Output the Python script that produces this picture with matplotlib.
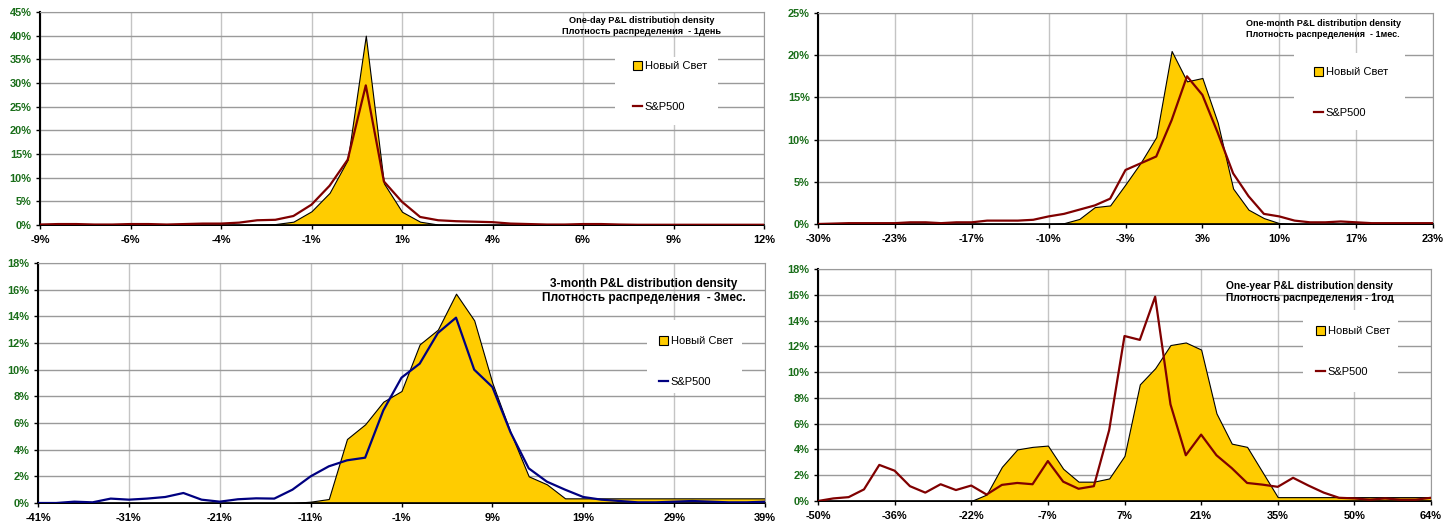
import numpy as np
import matplotlib.pyplot as plt
from matplotlib.patches import Patch, Rectangle
from matplotlib.lines import Line2D

plt.rcParams['font.family'] = ['Liberation Sans', 'DejaVu Sans']

W, H = 1455, 529

### Data: distribution density, % ###
# one day
day_ticks = ['-9%', '-6%', '-4%', '-1%', '1%', '4%', '6%', '9%', '12%']
day_nsv = [0, 0, 0, 0, 0, 0, 0, 0, 0, 0,
           0, 0, 0.1, 0.2, 0.7, 2.9, 6.8, 13.8, 40.0, 8.8,
           2.8, 0.7, 0.1, 0, 0, 0, 0, 0, 0, 0,
           0, 0, 0, 0, 0, 0, 0, 0, 0, 0, 0]
day_sp = [0.1, 0.2, 0.2, 0.1, 0.1, 0.2, 0.2, 0.1, 0.2, 0.3,
          0.3, 0.5, 1.0, 1.1, 1.9, 4.3, 8.3, 13.8, 29.5, 9.2,
          4.9, 1.7, 1.0, 0.8, 0.7, 0.6, 0.3, 0.2, 0.1, 0.1,
          0.2, 0.2, 0.1, 0.05, 0.05, 0.05, 0.05, 0.05, 0.05, 0.05, 0.05]

# one month
month_ticks = ['-30%', '-23%', '-17%', '-10%', '-3%', '3%', '10%', '17%', '23%']
month_nsv = [0, 0, 0, 0, 0, 0, 0, 0, 0, 0,
             0, 0, 0, 0, 0, 0, 0.1, 0.6, 2.0, 2.2,
             4.7, 7.3, 10.3, 20.5, 16.9, 17.3, 12.0, 4.2, 1.7, 0.7,
             0.1, 0, 0, 0, 0, 0, 0, 0, 0, 0, 0]
month_sp = [0, 0.05, 0.1, 0.1, 0.1, 0.1, 0.2, 0.2, 0.1, 0.2,
            0.2, 0.4, 0.4, 0.4, 0.5, 0.9, 1.2, 1.7, 2.2, 3.0,
            6.4, 7.2, 8.0, 12.3, 17.5, 15.3, 10.8, 6.0, 3.3, 1.2,
            0.9, 0.4, 0.2, 0.2, 0.3, 0.2, 0.1, 0.1, 0.1, 0.1, 0.1]

# three months
q_ticks = ['-41%', '-31%', '-21%', '-11%', '-1%', '9%', '19%', '29%', '39%']
q_nsv = [0, 0, 0, 0, 0, 0, 0, 0, 0, 0,
         0, 0, 0, 0, 0, 0.1, 0.3, 4.8, 5.9, 7.6,
         8.4, 11.9, 13.0, 15.7, 13.7, 9.0, 5.3, 2.0, 1.4, 0.35,
         0.35, 0.35, 0.35, 0.35, 0.35, 0.35, 0.35, 0.35, 0.35, 0.35, 0.35]
q_sp = [0, 0, 0.1, 0.05, 0.33, 0.25, 0.33, 0.45, 0.75, 0.25,
        0.1, 0.28, 0.35, 0.33, 1.0, 2.0, 2.75, 3.2, 3.4, 6.95,
        9.4, 10.45, 12.75, 13.9, 10.0, 8.7, 5.3, 2.6, 1.6, 1.0,
        0.45, 0.25, 0.15, 0.05, 0.05, 0.1, 0.15, 0.1, 0.05, 0.05, 0.1]

# one year
year_ticks = ['-50%', '-36%', '-22%', '-7%', '7%', '21%', '35%', '50%', '64%']
year_nsv = [0, 0, 0, 0, 0, 0, 0, 0, 0, 0,
            0, 0.5, 2.65, 4.0, 4.2, 4.3, 2.5, 1.5, 1.5, 1.75,
            3.5, 9.05, 10.3, 12.1, 12.3, 11.75, 6.8, 4.45, 4.2, 2.25,
            0.3, 0.3, 0.3, 0.3, 0.3, 0.3, 0.3, 0.3, 0.3, 0.3, 0.3]
year_sp = [0, 0.2, 0.3, 0.9, 2.8, 2.35, 1.15, 0.65, 1.3, 0.85,
           1.2, 0.5, 1.25, 1.4, 1.3, 3.1, 1.5, 0.95, 1.15, 5.5,
           12.8, 12.5, 15.85, 7.5, 3.55, 5.15, 3.55, 2.55, 1.4, 1.27,
           1.1, 1.8, 1.2, 0.65, 0.25, 0.2, 0.1, 0.2, 0.1, 0.1, 0.25]

legend_labels = ['Новый Свет', 'S&P500']

YELLOW = '#ffcc00'
GREEN = '#1a6e1a'

fig = plt.figure(figsize=(W / 100, H / 100), dpi=100)


def panel(box, nsv, sp, ticks, ymax, ystep, sp_color,
          title, tpos, tsize, leg_xy, leg_box):
    l, t, r, b = box
    ax = fig.add_axes([l / W, 1 - b / H, (r - l) / W, (b - t) / H])
    x = np.arange(len(nsv))
    ax.fill_between(x, 0, nsv, facecolor=YELLOW, edgecolor='black',
                    lw=0.8, zorder=2)
    ax.plot(x, sp, color=sp_color, lw=1.6, zorder=3)
    ax.set_xlim(0, len(nsv) - 1)
    ax.set_ylim(0, ymax)
    ax.set_xticks(x[::5])
    ax.set_xticklabels(ticks)
    yt = np.arange(0, ymax + ystep / 2, ystep)
    ax.set_yticks(yt)
    ax.set_yticklabels(['%d%%' % v for v in yt])

    ax.set_axisbelow(True)
    ax.grid(axis='x', color='#c4c4c4', lw=1)
    ax.grid(axis='y', color='#9a9a9a', lw=1)
    ax.tick_params(axis='both', direction='out', length=3, width=1,
                   labelsize=7.9)
    ax.tick_params(axis='y', pad=3, labelcolor=GREEN)
    ax.tick_params(axis='x', pad=4.5)
    for lab in ax.get_xticklabels() + ax.get_yticklabels():
        lab.set_fontweight('bold')
    ax.spines['left'].set_linewidth(1.5)
    ax.spines['bottom'].set_linewidth(1.2)
    for s in ['top', 'right']:
        ax.spines[s].set_color('#9a9a9a')

    # title
    fig.text(tpos[0] / W, 1 - tpos[1] / H, title, ha='center', va='center',
             fontsize=tsize, fontweight='bold', linespacing=1.15)

    # legend with white background box
    bl, bt, br, bb = leg_box
    ax.add_patch(Rectangle((bl / W, 1 - bb / H), (br - bl) / W, (bb - bt) / H,
                           transform=fig.transFigure, facecolor='white',
                           edgecolor='none', zorder=1))
    handles = [Patch(facecolor=YELLOW, edgecolor='black', lw=0.8),
               Line2D([], [], color=sp_color, lw=1.6)]
    ax.legend(handles, legend_labels, loc='upper left',
              bbox_to_anchor=(leg_xy[0] / W, 1 - leg_xy[1] / H),
              bbox_transform=fig.transFigure, frameon=False, fontsize=8,
              handlelength=0.8, handleheight=0.8, handletextpad=0.25,
              labelspacing=2.75, borderpad=0, borderaxespad=0)
    return ax


panel((40, 12, 764, 225), day_nsv, day_sp, day_ticks, 45, 5, '#800000',
      'One-day P&L distribution density\nПлотность распределения  - 1день',
      (642, 26), 6.6, (633, 61), (615, 57, 718, 125))
panel((818, 13, 1433, 224), month_nsv, month_sp, month_ticks, 25, 5, '#800000',
      'One-month P&L distribution density\nПлотность распределения  - 1мес.',
      (1323, 29), 6.5, (1314, 67), (1294, 53, 1405, 130))
panel((38, 263, 765, 503), q_nsv, q_sp, q_ticks, 18, 2, '#000080',
      '3-month P&L distribution density\nПлотность распределения  - 3мес.',
      (644, 291), 8.6, (659, 336), (647, 320, 742, 393))
panel((818, 269, 1431, 501), year_nsv, year_sp, year_ticks, 18, 2, '#800000',
      'One-year P&L distribution density\nПлотность распределения - 1год',
      (1310, 292), 7.4, (1316, 326), (1303, 310, 1398, 392))

fig.savefig('out.png', dpi=100)
